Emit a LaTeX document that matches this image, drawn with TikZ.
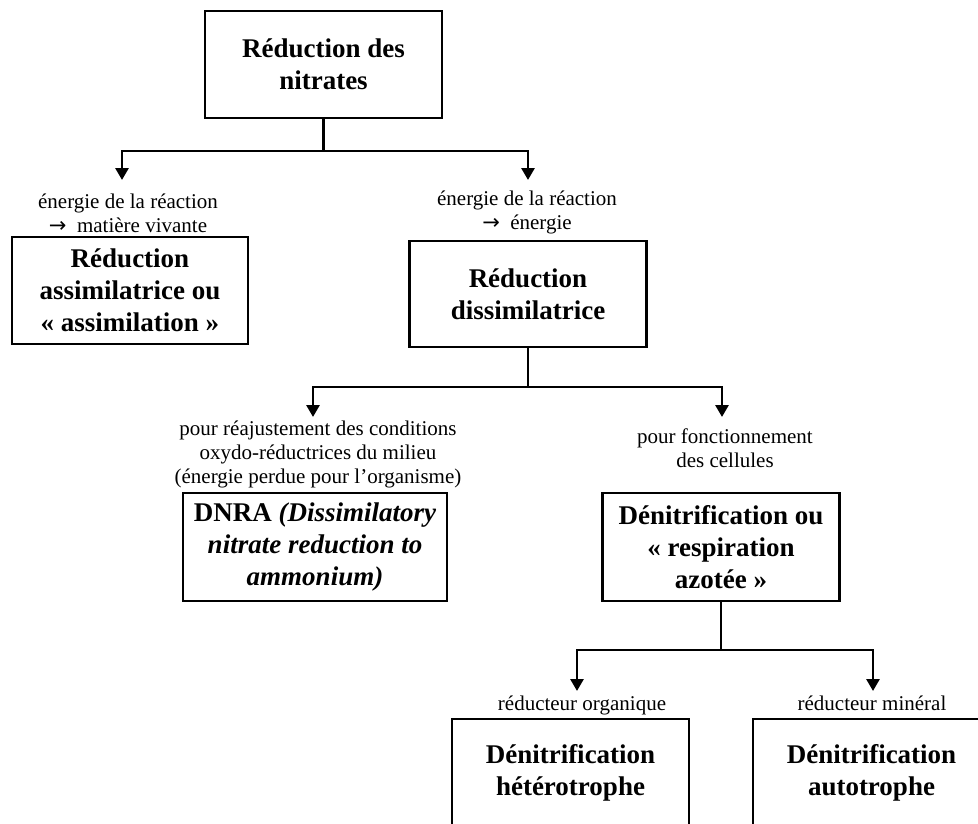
\documentclass[tikz,border=0pt]{standalone}
\usepackage{fontspec}
\setmainfont{Liberation Serif}
\newfontfamily\arrfont{DejaVu Sans}
\newcommand{\rarr}{{\arrfont\fontsize{21}{24}\selectfont →}}
\usetikzlibrary{arrows.meta}
\tikzset{
 boxnode/.style={draw, line width=2.8pt, minimum width=237pt, minimum height=107pt, inner sep=0pt, align=center, font=\fontsize{27}{32}\selectfont\bfseries},
 lbl/.style={align=center, inner sep=0pt, font=\fontsize{21}{24}\selectfont},
 lblone/.style={lbl, text height=15pt, text depth=5pt},
 conn/.style={line width=2.8pt},
 arr/.style={conn, -{Triangle[length=12pt,width=13pt]}},
}
\begin{document}
\begin{tikzpicture}[x=1pt,y=-1pt]
\useasboundingbox (0,0) rectangle (978,823);
\clip (0,0) rectangle (978,823);
\fill[white] (0,0) rectangle (978,823);
% boxes
\node[boxnode] (top) at (323.5,64.5) {Réduction des\\nitrates};
\node[boxnode, minimum width=236pt] (assim) at (130,290.5) {Réduction\\assimilatrice ou\\« assimilation »};
\node[boxnode, minimum height=106pt] (dissim) at (528,294) {Réduction\\dissimilatrice};
\node[boxnode, minimum width=264pt, minimum height=108pt] (dnra) at (315,547) {DNRA \textit{(Dissimilatory}\\\textit{nitrate reduction to}\\\textit{ammonium)}};
\node[boxnode, minimum height=108pt] (denit) at (721,547) {Dénitrification ou\\« respiration\\azotée »};
\node[boxnode] (hetero) at (570.5,772.5) {Dénitrification\\hétérotrophe};
\node[boxnode] (auto) at (871.5,772.5) {Dénitrification\\autotrophe};
% labels
\node[lbl] (l1) at (128,213) {énergie de la réaction\\\rarr~~matière vivante};
\node[lbl] (l2) at (527,212) {énergie de la réaction\\\rarr~~énergie};
\node[lbl] (l3) at (318,454) {pour réajustement des conditions\\oxydo-réductrices du milieu\\(énergie perdue pour l’organisme)};
\node[lbl] (l4) at (725,448) {pour fonctionnement\\des cellules};
\node[lblone] (l5) at (582,705) {réducteur organique};
\node[lblone] (l6) at (872,705) {réducteur minéral};
% connectors
\coordinate (j1) at (323.5,151);
\coordinate (a1) at (122,180);
\coordinate (a2) at (528,180);
\draw[conn] (top.south) -- (j1);
\draw[arr] (j1) -| (a1);
\draw[arr] (j1) -| (a2);
\coordinate (j2) at (528,387);
\coordinate (a3) at (313,417);
\coordinate (a4) at (722,417);
\draw[conn] (dissim.south) -- (j2);
\draw[arr] (j2) -| (a3);
\draw[arr] (j2) -| (a4);
\coordinate (j3) at (721,650);
\coordinate (a5) at (577,691);
\coordinate (a6) at (873,691);
\draw[conn] (denit.south) -- (j3);
\draw[arr] (j3) -| (a5);
\draw[arr] (j3) -| (a6);
\end{tikzpicture}
\end{document}
